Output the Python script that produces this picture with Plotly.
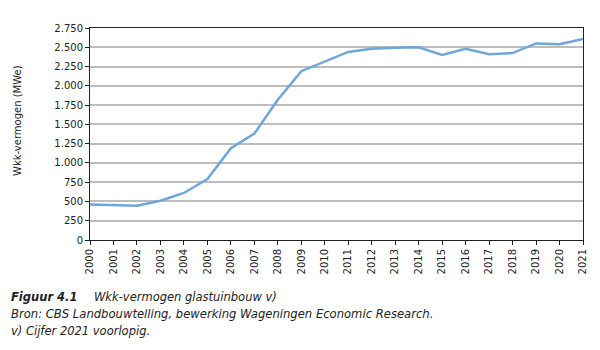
import plotly.graph_objects as go

years = list(range(2000, 2022))
wkk_mwe = [460, 450, 445, 510, 610, 790, 1190, 1380, 1820, 2190, 2310, 2440,
           2480, 2495, 2500, 2400, 2480, 2410, 2425, 2550, 2538, 2607]
y_ticks = list(range(0, 2751, 250))

L, R, T, B = 90, 17, 28, 110
W, H = 600, 350
pw, ph = W - L - R, H - T - B

fig = go.Figure()
fig.add_trace(go.Scatter(x=years, y=wkk_mwe, mode="lines",
                         line=dict(color="#6fa6d9", width=2.5),
                         hoverinfo="x+y"))

font = "DejaVu Sans, Verdana, sans-serif"
fig.update_layout(
    width=W, height=H, margin=dict(l=L, r=R, t=T, b=B),
    paper_bgcolor="white", plot_bgcolor="white",
    separators=",.", showlegend=False,
    font=dict(family=font, size=10, color="#222"),
    xaxis=dict(range=[2000, 2021], tickmode="array", tickvals=years,
               ticktext=[str(y) for y in years], tickangle=-90,
               showgrid=False, showline=True, linecolor="#222", linewidth=1,
               mirror=True, ticks="outside", ticklen=4, tickcolor="#222",
               zeroline=False, tickfont=dict(size=10)),
    yaxis=dict(range=[0, 2750], tickmode="array", tickvals=y_ticks,
               tickformat=",d", showgrid=True, gridcolor="#bdbdbd", gridwidth=1.5,
               showline=True, linecolor="#222", linewidth=1, mirror=True,
               ticks="outside", ticklen=4, tickcolor="#222", zeroline=False,
               tickfont=dict(size=10)),
)

def px_x(x):
    return (x - L) / pw

def px_y(y):
    return (H - B - y) / ph

annos = [
    dict(text="Wkk-vermogen (MWe)", x=px_x(18), y=px_y(121), textangle=-90,
         font=dict(size=10)),
    dict(text="<b><i>Figuur 4.1</i></b>", x=px_x(9), y=px_y(297), xanchor="left",
         font=dict(size=11.5)),
    dict(text="<i>Wkk-vermogen glastuinbouw v)</i>", x=px_x(92), y=px_y(297), xanchor="left",
         font=dict(size=11.5)),
    dict(text="<i>Bron: CBS Landbouwtelling, bewerking Wageningen Economic Research.</i>",
         x=px_x(9), y=px_y(314), xanchor="left", font=dict(size=11.6)),
    dict(text="<i>v) Cijfer 2021 voorlopig.</i>", x=px_x(9), y=px_y(331), xanchor="left",
         font=dict(size=11.5)),
]
for a in annos:
    a.update(xref="paper", yref="paper", showarrow=False, yanchor="middle")
    a.setdefault("xanchor", "center")
    fig.add_annotation(**a)

fig.write_html("out.html")
